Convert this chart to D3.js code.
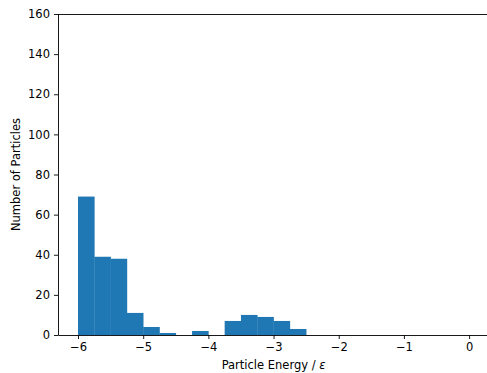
<!DOCTYPE html>
<html>
<head>
<meta charset="utf-8">
<script src="https://cdn.jsdelivr.net/npm/d3@7"></script>
<style>
  body { margin: 0; background: #fff; }
  text { font-family: "DejaVu Sans", sans-serif; }
</style>
</head>
<body>
<div id="chart"></div>
<script>
// histogram bins (left edges, width 0.25) and counts
const binStarts = [-6, -5.75, -5.5, -5.25, -5, -4.75, -4.5, -4.25, -4, -3.75, -3.5, -3.25, -3, -2.75];
const counts    = [69, 39, 38, 11, 4, 1, 0, 2, 0, 7, 10, 9, 7, 3];
const binWidth = 0.25;
const xTicks = [-6, -5, -4, -3, -2, -1, 0];
const yTicks = [0, 20, 40, 60, 80, 100, 120, 140, 160];

const width = 487, height = 373;
const margin = { top: 14, right: -1, bottom: 38, left: 58 };
const fontSize = 11.5;

const svg = d3.select("#chart").append("svg")
  .attr("width", width)
  .attr("height", height);

const x = d3.scaleLinear()
  .domain([-6.307, 0.29])
  .range([margin.left, width - margin.right]);

const y = d3.scaleLinear()
  .domain([0, 160])
  .range([height - margin.bottom, margin.top]);

const bins = binStarts.map((s, i) => ({ x0: s, x1: s + binWidth, n: counts[i] }));

svg.append("g")
  .selectAll("rect")
  .data(bins.filter(d => d.n > 0))
  .join("rect")
    .attr("x", d => x(d.x0))
    .attr("width", d => x(d.x1) - x(d.x0) + 0.3)
    .attr("y", d => y(d.n))
    .attr("height", d => y(0) - y(d.n))
    .attr("fill", "#1f77b4");

// axes
const xAxis = svg.append("g")
  .attr("transform", `translate(0,${y(0)})`)
  .call(d3.axisBottom(x).tickValues(xTicks).tickFormat(d3.format("d"))
    .tickSize(4).tickPadding(4).tickSizeOuter(0));

const yAxis = svg.append("g")
  .attr("transform", `translate(${margin.left},0)`)
  .call(d3.axisLeft(y).tickValues(yTicks).tickFormat(d3.format("d"))
    .tickSize(4).tickPadding(4).tickSizeOuter(0));

[xAxis, yAxis].forEach(a => {
  a.selectAll("text").style("font-size", fontSize + "px").attr("fill", "#000").style("font-family", "DejaVu Sans, sans-serif");
  a.selectAll("line").attr("stroke", "#000").attr("stroke-width", 0.9);
  a.select(".domain").attr("stroke", "#000").attr("stroke-width", 0.9);
});

// top spine
svg.append("line")
  .attr("x1", margin.left).attr("x2", width)
  .attr("y1", margin.top + 0.5).attr("y2", margin.top + 0.5)
  .attr("stroke", "#000").attr("stroke-width", 0.9);

// labels
svg.append("text")
  .attr("x", x(-3))
  .attr("y", 369)
  .attr("text-anchor", "middle")
  .style("font-size", fontSize + "px")
  .html('Particle Energy / <tspan font-style="italic">ε</tspan>');

svg.append("text")
  .attr("transform", `translate(20,${y(80)}) rotate(-90)`)
  .attr("text-anchor", "middle")
  .style("font-size", fontSize + "px")
  .text("Number of Particles");
</script>
</body>
</html>
